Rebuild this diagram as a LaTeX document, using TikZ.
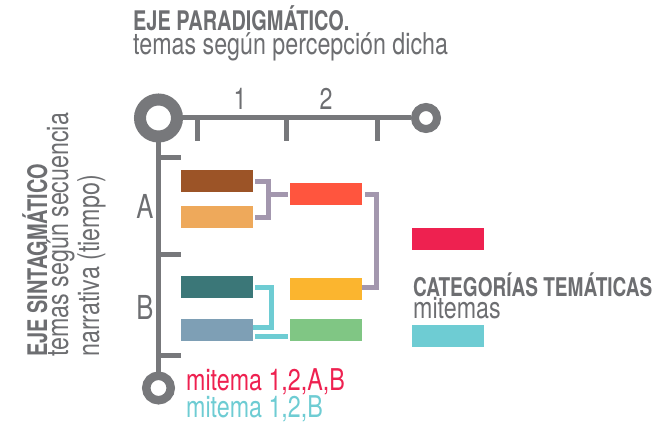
\documentclass[tikz,border=0pt]{standalone}
\usepackage{fontspec}
\usetikzlibrary{calc}
\setmainfont{TeX Gyre Heros}
\newfontfamily\bcond[FakeStretch=0.738]{TeX Gyre Heros}
\newfontfamily\lcond[FakeStretch=0.775]{TeX Gyre Heros}
\definecolor{axisgrey}{HTML}{77787B}
\definecolor{txtgrey}{HTML}{6D6E71}
\definecolor{cbrown}{HTML}{9C5427}
\definecolor{corange}{HTML}{EEA95B}
\definecolor{cteal}{HTML}{3B7778}
\definecolor{cblue}{HTML}{7E9FB5}
\definecolor{cred}{HTML}{FF553E}
\definecolor{cyellow}{HTML}{FBB52F}
\definecolor{cgreen}{HTML}{80C684}
\definecolor{cpurple}{HTML}{A397AE}
\definecolor{ccyan}{HTML}{6ECCD3}
\definecolor{cmag}{HTML}{EE2150}
\begin{document}
\begin{tikzpicture}[x=1pt,y=-1pt,
  bar/.style={rectangle, inner sep=0, minimum width=72pt, minimum height=22pt},
  axis/.style={draw=axisgrey, line width=5pt},
  ring/.style={circle, draw=axisgrey, inner sep=0},
  pconn/.style={draw=cpurple, line width=5pt},
  cconn/.style={draw=ccyan, line width=5pt},
  boldtxt/.style={inner sep=0, text=txtgrey, font=\bcond\bfseries\fontsize{27}{30}\selectfont},
  lighttxt/.style={inner sep=0, text=txtgrey, font=\lcond\fontsize{30}{32}\selectfont},
]
\useasboundingbox (0,0) rectangle (655,422);
% titles
\node[boldtxt, anchor=base west] (t1) at (133,31) {EJE PARADIGMÁTICO.};
\node[lighttxt, anchor=base west] (t2) at (133,55) {temas según percepción dicha};
\node[boldtxt, anchor=base west, rotate=90] (v1) at (47,357) {EJE SINTAGMÁTICO};
\node[lighttxt, anchor=base west, rotate=90] (v2) at (68,357) {temas según secuencia};
\node[lighttxt, anchor=base west, rotate=90] (v3) at (99,357) {narrativa (tiempo)};
% axes
\node[ring, line width=12pt, minimum size=37pt] (O) at (158.5,118) {};
\node[ring, line width=8pt, minimum size=22pt] (R) at (426,118) {};
\node[ring, line width=8.5pt, minimum size=24.5pt] (S) at (158.5,388) {};
\draw[axis] (O) -- (R);
\draw[axis] (O) -- (S);
\foreach \n/\x in {h1/197.5,h2/286,h3/377.5}{
  \coordinate (\n a) at (\x,118);
  \coordinate (\n b) at (\x,141);
  \draw[axis] (\n a) -- (\n b);
}
\foreach \n/\y in {w1/158,w2/254,w3/355.5}{
  \coordinate (\n a) at (158.5,\y);
  \coordinate (\n b) at (181,\y);
  \draw[axis] (\n a) -- (\n b);
}
\node[lighttxt, anchor=base] (n1) at (240,110) {1};
\node[lighttxt, anchor=base] (n2) at (326,110) {2};
\node[lighttxt, anchor=base, font=\lcond\fontsize{33}{36}\selectfont] (lA) at (145,218) {A};
\node[lighttxt, anchor=base, font=\lcond\fontsize{33}{36}\selectfont] (lB) at (145,319) {B};
% bars
\node[bar, fill=cbrown] (b1) at (217,181) {};
\node[bar, fill=corange] (b2) at (217,217) {};
\node[bar, fill=cteal] (b3) at (217,287) {};
\node[bar, fill=cblue] (b4) at (217,330) {};
\node[bar, fill=cred] (r1) at (326,194) {};
\node[bar, fill=cyellow] (r2) at (326,289) {};
\node[bar, fill=cgreen] (r3) at (326,330) {};
% purple connectors
\coordinate (p1) at ($(b1.east)+(2,0)$);
\coordinate (p2) at ($(b2.east)+(2,0)$);
\coordinate (pm) at (268,194);
\draw[pconn] (p1) -- (268,181) -- (268,217) -- (p2);
\draw[pconn] (pm) -- ($(r1.west)+(-2,0)$);
\coordinate (q1) at ($(r1.east)+(3,0)$);
\coordinate (q2) at ($(r2.east)+(0,-2)$);
\draw[pconn] (q1) -- (376,194) -- (376,287) -- (q2);
% cyan connectors
\coordinate (c1) at ($(b3.east)+(2,0)$);
\coordinate (c2) at ($(b4.east)+(0,-3)$);
\draw[cconn] (c1) -- (271,287) -- (271,327) -- (c2);
\draw[cconn] ($(b4.east)+(2,6)$) -- ($(r3.west)+(-2,6)$);
% legend
\node[bar, fill=cmag] (k1) at (448,239) {};
\node[bar, fill=ccyan] (k2) at (448,336) {};
\node[boldtxt, anchor=base west, font=\bcond\bfseries\fontsize{25.8}{30}\selectfont] (k3) at (413,296) {CATEGORÍAS TEMÁTICAS};
\node[lighttxt, anchor=base west] (k4) at (413,318) {mitemas};
\node[lighttxt, anchor=base west, text=cmag] (m1) at (186,390) {mitema 1,2,A,B};
\node[lighttxt, anchor=base west, text=ccyan] (m2) at (186,417) {mitema 1,2,B};
\end{tikzpicture}
\end{document}
